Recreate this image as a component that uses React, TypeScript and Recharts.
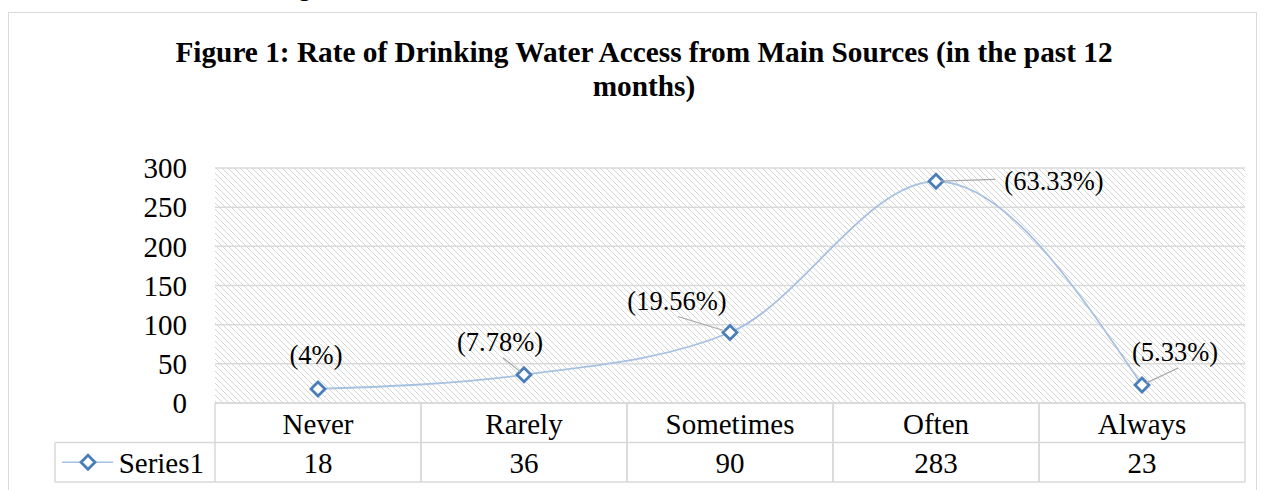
import { CartesianGrid, ComposedChart, LabelList, Line, XAxis, YAxis } from 'recharts';

const categories = ['Never', 'Rarely', 'Sometimes', 'Often', 'Always'];
const counts = [18, 36, 90, 283, 23];
const percentLabels = ['(4%)', '(7.78%)', '(19.56%)', '(63.33%)', '(5.33%)'];
const yTicks = [0, 50, 100, 150, 200, 250, 300];
const seriesName = 'Series1';

// where each percent label sits relative to its point, and where its leader line starts
const labelPlacement = [
  { dx: -2, dy: -34, leader: null },
  { dx: -24, dy: -33, leader: [-21, -17] },
  { dx: -53, dy: -32, leader: [-52, -16] },
  { dx: 118, dy: 0, leader: [59, -2] },
  { dx: 33, dy: -33, leader: [36, -17] },
];

const data = categories.map((c, i) => ({ name: c, value: counts[i], pct: percentLabels[i] }));

const FONT = '"Liberation Serif", "Times New Roman", serif';
const GRID = '#d9d9d9';
const LINE = '#a7c1e3';
const MARK = '#4a7ebb';
const TXT = 29;

function Diamond(props: any) {
  const { cx, cy } = props;
  if (cx == null || cy == null) return null;
  const r = 7;
  return (
    <path
      d={`M${cx},${cy - r} L${cx + r},${cy} L${cx},${cy + r} L${cx - r},${cy} Z`}
      fill="#fff"
      stroke={MARK}
      strokeWidth={2.8}
    />
  );
}

function PctLabel(props: any) {
  const { x, y, value, index } = props;
  const p = labelPlacement[index];
  if (!p) return null;
  let leader = null;
  if (p.leader) {
    const [lx, ly] = p.leader;
    const len = Math.hypot(lx, ly);
    leader = (
      <line
        x1={x + lx}
        y1={y + ly}
        x2={x + (lx / len) * 5}
        y2={y + (ly / len) * 5}
        stroke="#a6a6a6"
        strokeWidth={1.2}
      />
    );
  }
  return (
    <g>
      {leader}
      <text
        x={x + p.dx}
        y={y + p.dy}
        textAnchor="middle"
        dominantBaseline="central"
        fontFamily={FONT}
        fontSize={26.5}
        fill="#000"
      >
        {value}
      </text>
    </g>
  );
}

function TableTick(props: any) {
  const { x, y, payload, index } = props;
  const half = payload?.offset || 103;
  const rowH = 39.5;
  const left = x - half;
  const right = x + half;
  return (
    <g>
      <line x1={left} y1={y} x2={left} y2={y + rowH * 2} stroke={GRID} strokeWidth={1.5} />
      <line x1={right} y1={y} x2={right} y2={y + rowH * 2} stroke={GRID} strokeWidth={1.5} />
      <line x1={left} y1={y + rowH} x2={right} y2={y + rowH} stroke={GRID} strokeWidth={1.5} />
      <line x1={left} y1={y + rowH * 2} x2={right} y2={y + rowH * 2} stroke={GRID} strokeWidth={1.5} />
      <text x={x} y={y + rowH / 2 + 1} textAnchor="middle" dominantBaseline="central" fontFamily={FONT} fontSize={TXT} fill="#000">
        {payload.value}
      </text>
      <text x={x} y={y + rowH * 1.5 + 1} textAnchor="middle" dominantBaseline="central" fontFamily={FONT} fontSize={TXT} fill="#000">
        {counts[index]}
      </text>
      {index === 0 && (
        <g>
          <line x1={left - 160} y1={y + rowH} x2={left} y2={y + rowH} stroke={GRID} strokeWidth={1.5} />
          <line x1={left - 160} y1={y + rowH * 2} x2={left} y2={y + rowH * 2} stroke={GRID} strokeWidth={1.5} />
          <line x1={left - 160} y1={y + rowH} x2={left - 160} y2={y + rowH * 2} stroke={GRID} strokeWidth={1.5} />
          <line x1={left - 153} y1={y + rowH * 1.5} x2={left - 102} y2={y + rowH * 1.5} stroke={LINE} strokeWidth={1.6} />
          <Diamond cx={left - 127} cy={y + rowH * 1.5} />
          <text x={left - 11} y={y + rowH * 1.5 + 1} textAnchor="end" dominantBaseline="central" fontFamily={FONT} fontSize={TXT} fill="#000">
            {seriesName}
          </text>
        </g>
      )}
    </g>
  );
}

export default function App() {
  return (
    <div style={{ position: 'absolute', left: 0, top: 0, width: 1270, height: 490, overflow: 'hidden', background: '#fff' }}>
      <div
        style={{
          position: 'absolute',
          right: 1270 - 311,
          top: -25,
          fontFamily: FONT,
          fontSize: 26,
          lineHeight: '26px',
          whiteSpace: 'nowrap',
        }}
      >
        Drinking
      </div>
      <div
        style={{
          position: 'absolute',
          left: 8,
          top: 12,
          width: 1249,
          height: 500,
          border: `1.5px solid ${GRID}`,
          boxSizing: 'border-box',
        }}
      />
      <div
        style={{
          position: 'absolute',
          left: 0,
          top: 35,
          width: 1288,
          textAlign: 'center',
          fontFamily: FONT,
          fontWeight: 'bold',
          fontSize: 29.3,
          lineHeight: '34px',
          color: '#000',
        }}
      >
        Figure 1: Rate of Drinking Water Access from Main Sources (in the past 12
        <br />
        months)
      </div>
      <div style={{ position: 'absolute', left: 0, top: 0 }}>
        <ComposedChart width={1270} height={490} data={data} margin={{ top: 168, right: 25, bottom: 7, left: 135 }}>
          <defs>
            <pattern id="hatch" patternUnits="userSpaceOnUse" width={6} height={6}>
              <rect width={6} height={6} fill="#fff" />
              <path d="M0,0 L6,6 M-1,5 L1,7 M5,-1 L7,1" stroke="#d6d6d6" strokeWidth={1} />
            </pattern>
          </defs>
          <CartesianGrid vertical={false} stroke={GRID} strokeWidth={1.5} fill="url(#hatch)" fillOpacity={1} />
          <XAxis
            dataKey="name"
            scale="band"
            height={80}
            tickLine={false}
            tickSize={0}
            tickMargin={0}
            axisLine={{ stroke: GRID, strokeWidth: 1.5 }}
            tick={<TableTick />}
            interval={0}
          />
          <YAxis
            width={80}
            domain={[0, 300]}
            ticks={yTicks}
            axisLine={false}
            tickLine={false}
            tickSize={0}
            tickMargin={28}
            tick={{ fontFamily: FONT, fontSize: TXT, fill: '#000' }}
          />
          <Line
            type="monotone"
            dataKey="value"
            stroke={LINE}
            strokeWidth={1.8}
            dot={<Diamond />}
            activeDot={false}
            isAnimationActive={false}
          >
            <LabelList dataKey="pct" content={<PctLabel />} />
          </Line>
        </ComposedChart>
      </div>
    </div>
  );
}
